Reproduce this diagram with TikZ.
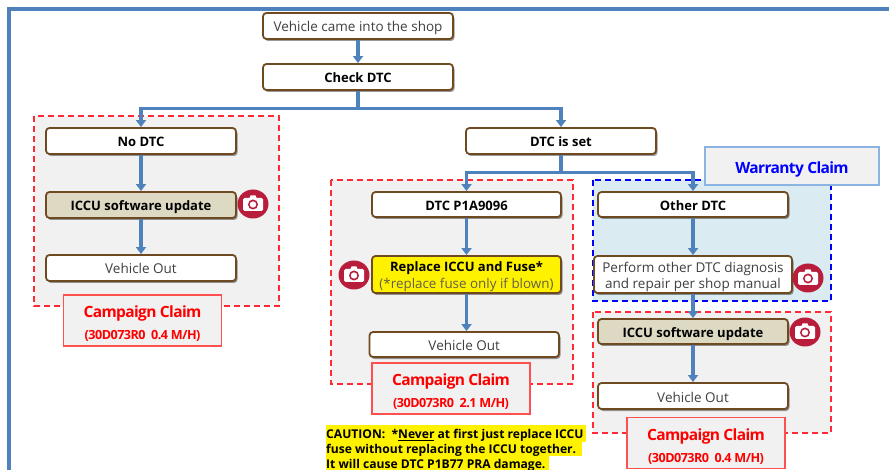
\documentclass[tikz,border=0pt]{standalone}
\usepackage{fontspec}
\setmainfont{Open Sans}
\usetikzlibrary{arrows.meta,shadows,calc}
\definecolor{frameblue}{HTML}{4F81BD}
\definecolor{boxbrown}{HTML}{6F4A20}
\definecolor{tan}{HTML}{DDD9C3}
\definecolor{panelgrey}{HTML}{F1F1F1}
\definecolor{panelblue}{HTML}{DAEBF2}
\definecolor{camred}{HTML}{B81D3C}
\definecolor{dashred}{HTML}{FF2A35}
\definecolor{claimred}{HTML}{FF0000}
\definecolor{claimline}{HTML}{FF5050}
\definecolor{warnline}{HTML}{8DB3E2}
\definecolor{txt}{HTML}{404040}
\newcommand{\camera}[2]{%
  \fill[camred] (#1,#2) ellipse [x radius=15.5, y radius=14.5];
  \fill[white,rounded corners=1.5] (#1-10,#2-6) rectangle (#1+10,#2+7);
  \fill[white] (#1-4,#2-5) -- (#1-2.5,#2-8.5) -- (#1+2.5,#2-8.5) -- (#1+4,#2-5) -- cycle;
  \fill[camred] (#1,#2+.5) circle (5);
  \fill[white] (#1,#2+.5) circle (3.2);
}
\tikzset{
  x=1pt,y=-1pt,
  flowbox/.style={draw=boxbrown,line width=1.8pt,rounded corners=3.5pt,fill=white,align=center,
    inner sep=0pt,font=\fontsize{13.5}{17}\selectfont,text=txt,text height=12pt,text depth=0pt,
    drop shadow={shadow xshift=1.5pt,shadow yshift=-2pt,opacity=.4,fill=black}},
  boldbox/.style={flowbox,text=black,font=\fontsize{13}{17}\selectfont\bfseries,text height=11.5pt},
  twolines/.style={text height=28pt,text depth=0pt},
  flow/.style={draw=frameblue,line width=3.2pt,-{Triangle[length=7pt,width=10pt]}},
  panel/.style={line width=1.6pt,dash pattern=on 6pt off 4pt},
  claim/.style={draw=#1,line width=1.2pt,fill=panelgrey,inner sep=0pt,align=center},
  campaign/.style={claim=claimline,minimum width=158pt,minimum height=51pt,text height=38pt,text depth=0pt},
}
\newcommand{\bx}[7][flowbox]{% style, name, x1,y1,x2,y2,text
  \node[#1,minimum width=#5-#3,minimum height=#6-#4] (#2) at ({(#3+#5)/2},{(#4+#6)/2}) {#7};}
\newcommand{\camclaim}[1]{{\fontsize{15.5}{18}\selectfont\bfseries\addfontfeatures{LetterSpace=-4}\textcolor{claimred}{Campaign Claim}}\\[8pt]{\fontsize{12.6}{14}\selectfont\bfseries\addfontfeatures{LetterSpace=-4}\textcolor{claimred}{#1}}}
\begin{document}
\begin{tikzpicture}
\useasboundingbox (0,0) rectangle (889,470);
\fill[white] (0,0) rectangle (889,470);
% frame
\coordinate (fa) at (9.2,470); \coordinate (fb) at (9.2,9.2); \coordinate (fc) at (889,9.2);
\draw[frameblue,line width=3.7pt] (fa) -- (fb) -- (fc);
% panels
\draw[panel,draw=dashred,fill=panelgrey] (34,116) rectangle (279,306);
\draw[panel,draw=dashred,fill=panelgrey] (331,180) rectangle (573,384);
\draw[panel,draw=blue,fill=panelblue] (593,180) rectangle (831,301);
\draw[panel,draw=dashred,fill=panelgrey] (593,312) rectangle (831,433);
% boxes
\bx{start}{263}{13}{453}{39}{Vehicle came into the shop}
\bx[boldbox]{check}{263}{64}{453}{90}{Check DTC}
\bx[boldbox]{nodtc}{46}{128}{236}{154}{No DTC}
\bx[boldbox,fill=tan]{iccua}{46}{192}{236}{218}{ICCU software update}
\bx{outa}{46}{255}{236}{281}{Vehicle Out}
\bx[boldbox]{set}{466}{128}{656}{154}{DTC is set}
\bx[boldbox]{p1a}{372}{192}{561}{217}{DTC P1A9096}
\bx[boldbox,twolines,fill=yellow]{replace}{372}{256}{561}{293}{Replace ICCU and Fuse*\\[-0.5pt]{\mdseries\fontsize{13.4}{15}\selectfont\textcolor{black!70!yellow}{(*replace fuse only if blown)}}}
\bx{outb}{369.5}{332}{559}{357}{Vehicle Out}
\bx[boldbox]{other}{598}{192}{788}{217}{Other DTC}
\bx[flowbox,twolines]{perform}{594}{256}{792}{293}{Perform other DTC diagnosis\\[-1pt]and repair per shop manual}
\bx[boldbox,fill=tan]{iccub}{598}{319}{788}{344}{ICCU software update}
\bx{outc}{598}{383}{788}{409}{Vehicle Out}
% claims
\node[campaign] (claima) at (142.5,320.5) {\camclaim{(30D073R0\ \ 0.4 M/H)}};
\node[campaign] (claimb) at (451,388.5) {\camclaim{(30D073R0\ \ 2.1 M/H)}};
\node[campaign] (claimc) at (706,443) {\camclaim{(30D073R0\ \ 0.4 M/H)}};
\node[claim=warnline,minimum width=174pt,minimum height=38pt,font=\fontsize{15.5}{18}\selectfont\bfseries\addfontfeatures{LetterSpace=-4},text=blue,text height=15pt,text depth=0pt] (warranty) at (792,166) {Warranty Claim};
% connectors
\draw[flow] (start) -- (check);
\draw[flow] (check.south) -- ++(0,18) -| (nodtc.north);
\draw[flow] (check.south) -- ++(0,18) -| (set.north);
\draw[flow] (set.south) -- ++(0,18) -| (p1a.north);
\draw[flow] (set.south) -- ++(0,18) -| (other.north);
\draw[flow] (nodtc) -- (iccua);
\draw[flow] (iccua) -- (outa);
\draw[flow] (p1a) -- (replace);
\draw[flow] (replace) -- (replace |- outb.north);
\draw[flow] (other) -- (perform);
\draw[flow] (perform) -- (iccub);
\draw[flow] (iccub) -- (outc);
% cameras
\camera{253}{204}
\camera{354}{275}
\camera{808}{278}
\camera{805}{332}
% caution
\fill[yellow] (326,425) rectangle (586,441.5);
\fill[yellow] (326,441.5) rectangle (582,456);
\fill[yellow] (326,456) rectangle (549,470);
\node[anchor=base west,inner sep=0pt,font=\fontsize{12.1}{14}\selectfont\bfseries] (c1) at (326,438.5) {CAUTION:\ \ *\underline{Never} at first just replace ICCU};
\node[anchor=base west,inner sep=0pt,font=\fontsize{12.1}{14}\selectfont\bfseries] (c2) at (326,453.5) {fuse without replacing the ICCU together.};
\node[anchor=base west,inner sep=0pt,font=\fontsize{12.1}{14}\selectfont\bfseries] (c3) at (326,468) {It will cause DTC P1B77 PRA damage.};
\end{tikzpicture}
\end{document}
